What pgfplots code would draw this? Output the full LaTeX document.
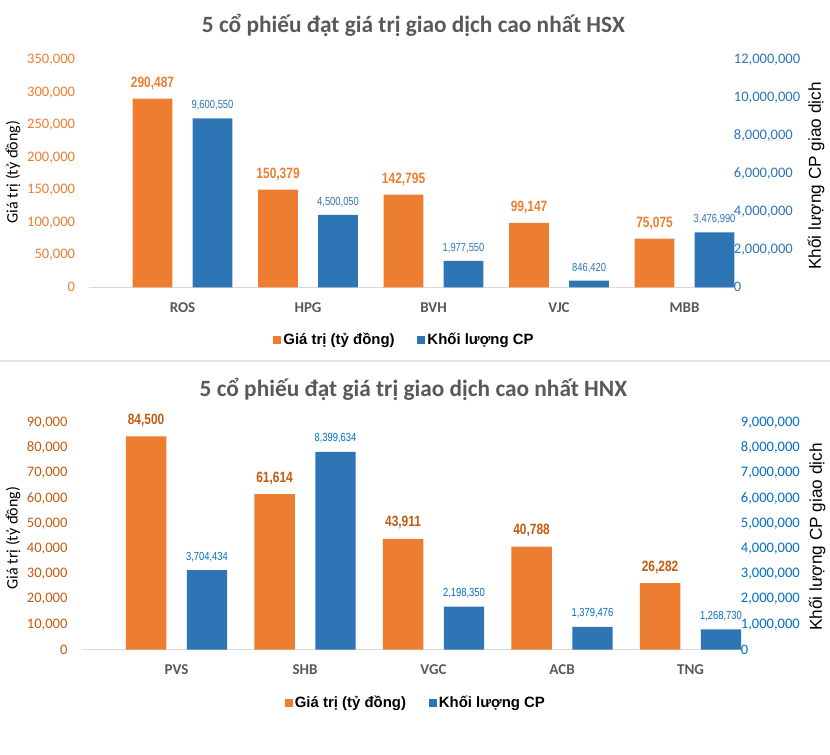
\documentclass[border=0pt]{standalone}
\usepackage{pgfplots}
\pgfplotsset{compat=1.18}
\usepackage{pgfplotstable}
\usepackage{fontspec}
\setmainfont{Carlito}
\newfontfamily\arialfont{Liberation Sans}
\newfontfamily\narrowfont[FakeStretch=0.80]{Liberation Sans}

\definecolor{barO}{HTML}{ED7D31}
\definecolor{barB}{HTML}{2E75B6}
\definecolor{tickO2}{HTML}{C55A11}
\definecolor{tickB2}{HTML}{0070C0}
\definecolor{titleg}{HTML}{595959}
\definecolor{baseg}{HTML}{D9D9D9}

% x = category, gt = gia tri, kl = khoi luong (bar height as drawn), labels as printed
\pgfplotstableread{
x gt gtlab kl kllab
0 290487 290,487 8920000 9,600,550
1 150379 150,379 3820000 4,500,050
2 142795 142,795 1390000 1,977,550
3 99147 99,147 350000 846,420
4 75075 75,075 2900000 3,476,990
}\hsx
\pgfplotstableread{
x gt gtlab kl kllab
0 84500 84,500 3150000 3,704,434
1 61614 61,614 7840000 8,399,634
2 43911 43,911 1700000 2,198,350
3 40788 40,788 900000 1,379,476
4 26282 26,282 800000 1,268,730
}\hnx

\pgfplotsset{
  base/.style={
    scale only axis, anchor=south west, ybar, ymin=0,
    axis line style={draw=none}, major tick length=0pt, tick style={draw=none},
    scaled y ticks=false, clip=false,
    /pgf/number format/assume math mode=true,
    yticklabel style={/pgf/number format/fixed, /pgf/number format/precision=0,
      /pgf/number format/1000 sep={,}, font=\fontsize{10.9}{12}\selectfont, inner sep=0pt},
    point meta=explicit symbolic, nodes near coords,
  },
  leftax/.style={ytick pos=left, xtick pos=bottom,
    yticklabel style={anchor=east, xshift=-10.5pt},
    xtick={0,1,2,3,4},
    xticklabel style={font=\bfseries\fontsize{11.25}{13}\selectfont, text=titleg,
      anchor=center, yshift=-15pt, inner sep=0pt}},
  rightax/.style={ytick pos=right, yticklabel pos=right, hide x axis,
    yticklabel style={anchor=west, xshift=0.5pt},
    legend columns=2,
    legend style={draw=none, fill=none, anchor=center, inner sep=0pt,
      font=\arialfont\bfseries\fontsize{11.2}{13}\selectfont,
      /tikz/every even column/.append style={column sep=15pt}}},
  sqO/.style={legend image code/.code={\fill[barO] (0pt,-2.6pt) rectangle (5.25pt,2.6pt);}},
  sqB/.style={legend image code/.code={\fill[barB] (0pt,-2.6pt) rectangle (5.25pt,2.6pt);}},
}

\begin{document}
\begin{tikzpicture}
\path[use as bounding box] (0,0) rectangle (622.5pt,-566.25pt);

% ---------- HSX ----------
\node[anchor=base, font=\bfseries\fontsize{17.5}{20}\selectfont, text=titleg]
  at (310pt,-24.2pt) {5 cổ phiếu đạt giá trị giao dịch cao nhất HSX};

\begin{axis}[base, leftax,
  at={(66.975pt,-215.475pt)}, width=482.775pt, height=170.475pt,
  xmin=-0.743, xmax=4.386, ymax=350000,
  ytick={0,50000,100000,150000,200000,250000,300000,350000},
  yticklabel style={text=barO},
  xticklabels={ROS,HPG,BVH,VJC,MBB},
  nodes near coords style={font=\narrowfont\bfseries\fontsize{11.2}{13}\selectfont,
    text=barO, anchor=center, yshift=11.7pt}]
\draw[baseg, line width=1.1pt] (rel axis cs:0,0) -- (rel axis cs:1,0);
\addplot[fill=barO, draw=none, bar width=0.316, bar shift=-0.239]
  table[x=x, y=gt, meta=gtlab] {\hsx};
\end{axis}

\begin{axis}[base, rightax,
  at={(66.975pt,-215.475pt)}, width=482.775pt, height=170.475pt,
  xmin=-0.743, xmax=4.386, ymax=12000000,
  ytick={0,2000000,4000000,6000000,8000000,10000000,12000000},
  yticklabel style={text=barB},
  legend style={at={(0.49,-0.232)}},
  nodes near coords style={font=\narrowfont\fontsize{8.8}{10}\selectfont,
    text=barB, anchor=center, yshift=9.75pt}]
\addlegendimage{sqO}\addlegendentry{Giá trị (tỷ đồng)}
\addlegendimage{sqB}\addlegendentry{Khối lượng CP}
\addplot[fill=barB, draw=none, bar width=0.316, bar shift=0.239, forget plot]
  table[x=x, y=kl, meta=kllab] {\hsx};
\end{axis}

\node[rotate=90, font=\fontsize{12}{14}\selectfont] at (9.75pt,-129pt) {Giá trị (tỷ đồng)};
\node[rotate=90, font=\arialfont\fontsize{12.9}{15}\selectfont] at (612pt,-132pt) {Khối lượng CP giao dịch};

% separator
\draw[black!10, line width=1.5pt] (0pt,-270.75pt) -- (622.5pt,-270.75pt);

% ---------- HNX ----------
\node[anchor=base, font=\bfseries\fontsize{17.5}{20}\selectfont, text=titleg]
  at (310pt,-297.5pt) {5 cổ phiếu đạt giá trị giao dịch cao nhất HNX};

\begin{axis}[base, leftax,
  at={(61.275pt,-487.125pt)}, width=493.725pt, height=170.25pt,
  xmin=-0.738, xmax=4.385, ymax=90000,
  ytick={0,10000,20000,30000,40000,50000,60000,70000,80000,90000},
  yticklabel style={text=tickO2},
  xticklabels={PVS,SHB,VGC,ACB,TNG},
  xticklabel style={yshift=-0.4pt},
  nodes near coords style={font=\narrowfont\bfseries\fontsize{11.2}{13}\selectfont,
    text=tickO2, anchor=center, yshift=12pt}]
\draw[baseg, line width=1.1pt] (rel axis cs:0,0) -- (rel axis cs:1,0);
\addplot[fill=barO, draw=none, bar width=0.315, bar shift=-0.237]
  table[x=x, y=gt, meta=gtlab] {\hnx};
\end{axis}

\begin{axis}[base, rightax,
  at={(61.275pt,-487.125pt)}, width=493.725pt, height=170.25pt,
  xmin=-0.738, xmax=4.385, ymax=9000000,
  ytick={0,1000000,2000000,3000000,4000000,5000000,6000000,7000000,8000000,9000000},
  yticklabel style={text=tickB2},
  legend style={at={(0.508,-0.234)}},
  nodes near coords style={font=\narrowfont\fontsize{8.8}{10}\selectfont,
    text=tickB2, anchor=center, yshift=10pt}]
\addlegendimage{sqO}\addlegendentry{Giá trị (tỷ đồng)}
\addlegendimage{sqB}\addlegendentry{Khối lượng CP}
\addplot[fill=barB, draw=none, bar width=0.315, bar shift=0.237, forget plot]
  table[x=x, y=kl, meta=kllab] {\hnx};
\end{axis}

\node[rotate=90, font=\fontsize{12}{14}\selectfont] at (9.75pt,-403.5pt) {Giá trị (tỷ đồng)};
\node[rotate=90, font=\arialfont\fontsize{12.9}{15}\selectfont] at (612.75pt,-402.75pt) {Khối lượng CP giao dịch};
\end{tikzpicture}
\end{document}
